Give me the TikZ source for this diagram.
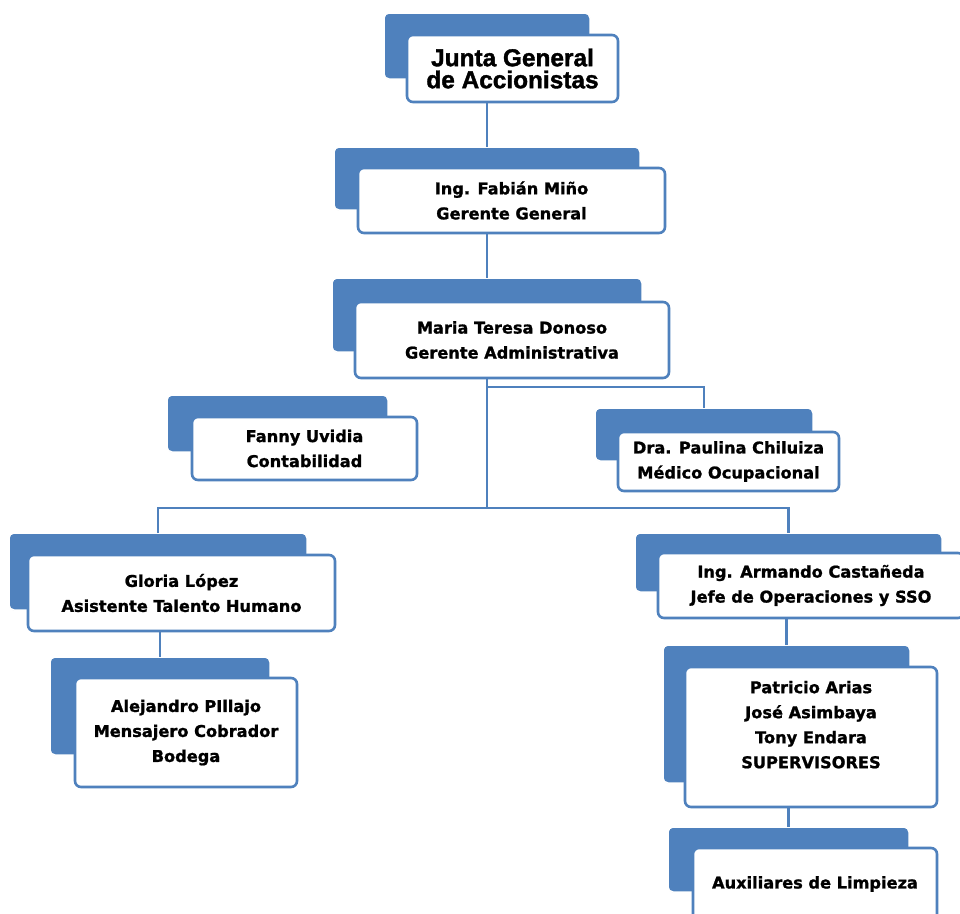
\documentclass[tikz,border=0pt]{standalone}
\usepackage{fontspec}
\setmainfont{DejaVu Sans}[BoldFeatures={FakeBold=1.2}]
\newfontfamily\juntafont{Liberation Sans}[BoldFeatures={FakeBold=1.5}]
\usetikzlibrary{shadows}
\definecolor{obblue}{RGB}{79,129,189}
\tikzset{
  backbox/.style={fill=obblue, draw=white, line width=1.5pt, rounded corners=5pt,
    drop shadow={shadow xshift=0.6pt, shadow yshift=-0.8pt, opacity=0.25}, inner sep=0pt, outer sep=0pt},
  frontbox/.style={fill=white, draw=obblue, line width=2.6pt, rounded corners=6pt,
    inner sep=0pt, outer sep=0pt, align=center, text=black,
    font=\fontsize{16.2}{25}\selectfont\bfseries},
  juntabox/.style={frontbox, font=\juntafont\fontsize{24.4}{22}\selectfont\bfseries},
  conn/.style={draw=obblue, line width=2.6pt}
}
% style, name, x1, y1, x2, y2, text
\newcommand\ornode[7]{%
  \node[#1, minimum width={#5-#3}, minimum height={#6-#4}] (#2) at ({(#3+#5)/2},{(#4+#6)/2}) {#7};%
}
\begin{document}
\begin{tikzpicture}[x=1pt,y=-1pt]
\useasboundingbox[fill=white] (0,0) rectangle (960,913);

\coordinate (mline) at (487,387);
\coordinate (hub) at (487,508);
\ornode{backbox}{juntaB}{384}{13}{590}{79}{}
\ornode{juntabox}{junta}{407}{35}{618}{102}{Junta General\\de Accionistas}

\ornode{backbox}{fabianB}{334}{147}{640}{210}{}
\ornode{frontbox}{fabian}{358}{168}{665}{233}{Ing. Fabián Miño\\Gerente General}

\ornode{backbox}{mariaB}{332}{278}{642}{352}{}
\ornode{frontbox}{maria}{355}{302}{669}{378}{Maria Teresa Donoso\\Gerente Administrativa}

\ornode{backbox}{fannyB}{167}{395}{388}{452}{}
\ornode{frontbox}{fanny}{192}{417}{417}{480}{Fanny Uvidia\\Contabilidad}

\ornode{backbox}{paulinaB}{595}{408}{813}{461}{}
\ornode{frontbox}{paulina}{618}{432}{839}{491}{Dra. Paulina Chiluiza\\Médico Ocupacional}

\ornode{backbox}{gloriaB}{9}{533}{307}{610}{}
\ornode{frontbox}{gloria}{28}{555}{335}{631}{Gloria López\\Asistente Talento Humano}

\ornode{backbox}{alejandroB}{50}{657}{270}{755}{}
\ornode{frontbox}{alejandro}{75}{678}{297}{787}{Alejandro PIllajo\\Mensajero Cobrador\\Bodega}

\ornode{backbox}{armandoB}{635}{533}{942}{592}{}
\ornode{frontbox}{armando}{658}{553}{964}{618}{Ing. Armando Castañeda\\Jefe de Operaciones y SSO}

\ornode{backbox}{superB}{663}{645}{910}{783}{}
\ornode{frontbox}{super}{685}{667}{937}{807}{Patricio Arias\\José Asimbaya\\Tony Endara\\SUPERVISORES\\\mbox{}}

\ornode{backbox}{auxB}{668}{827}{909}{892}{}
\ornode{frontbox}{aux}{693}{848}{937}{920}{Auxiliares de Limpieza}

\draw[conn] (hub |- junta.south) -- (hub |- fabianB.north);
\draw[conn] (hub |- fabian.south) -- (hub |- mariaB.north);
\draw[conn] (hub |- maria.south) -- (hub);
\draw[conn] (mline) -| (paulinaB.north);
\draw[conn] (gloriaB.north) |- (hub) -| (armandoB.north);
\draw[conn] (alejandroB.north |- gloria.south) -- (alejandroB.north);
\draw[conn] (superB.north |- armando.south) -- (superB.north);
\draw[conn] (auxB.north |- super.south) -- (auxB.north);
\end{tikzpicture}
\end{document}
